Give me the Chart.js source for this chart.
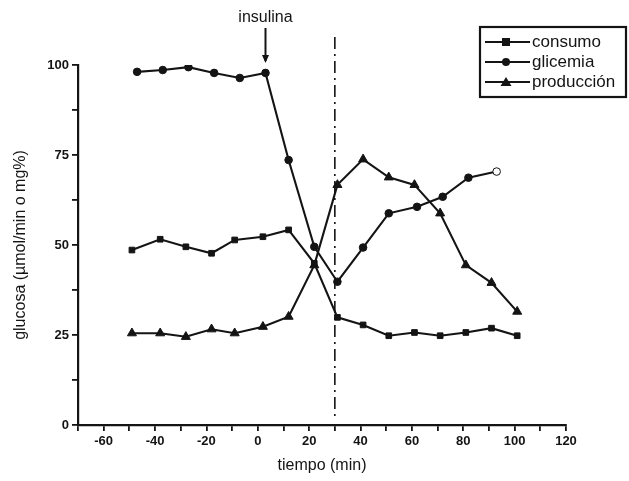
<!DOCTYPE html>
<html>
<head>
<meta charset="utf-8">
<script src="https://cdn.jsdelivr.net/npm/chart.js@4.4.1/dist/chart.umd.min.js"></script>
<style>
  html, body { margin: 0; padding: 0; background: #fff; }
  #wrap { width: 629px; height: 481px; }
</style>
</head>
<body>
<div id="wrap"><canvas id="grafico" width="629" height="481"></canvas></div>
<script>
// Datos (tiempo en min, glucosa en µmol/min o mg%)
const tiempo = [-49, -38, -28, -18, -9, 2, 12, 22, 31, 41, 51, 61, 71, 81, 91, 101];
const consumo = [48.6, 51.6, 49.5, 47.7, 51.4, 52.3, 54.2, 44.9, 29.9, 27.8, 24.8, 25.7, 24.8, 25.7, 26.9, 24.8];
const produccion = [25.5, 25.5, 24.5, 26.6, 25.5, 27.3, 30.1, 44.4, 66.7, 73.8, 68.8, 66.7, 58.8, 44.4, 39.5, 31.5];
const tiempoGlicemia = [-47, -37, -27, -17, -7, 3, 12, 22, 31, 41, 51, 62, 72, 82, 93];
const glicemia = [98.1, 98.6, 99.4, 97.8, 96.4, 97.8, 73.6, 49.5, 39.8, 49.3, 58.8, 60.6, 63.4, 68.7, 70.4];

const nombres = ['consumo', 'glicemia', 'producción'];
const estilos = ['rect', 'circle', 'triangle'];
const xEtiquetas = [-60, -40, -20, 0, 20, 40, 60, 80, 100, 120];
const yEtiquetas = [0, 25, 50, 75, 100];
const tiempoInsulina = 3;   // flecha "insulina"
const tiempoLinea = 30;     // línea punteada vertical

const negro = '#141414';
const fuente = '"Liberation Sans", Arial, sans-serif';

function puntos(xs, ys) {
    return ys.map((v, i) => ({ x: xs[i], y: v }));
}

function dibujarMarcador(ctx, estilo, x, y) {
    ctx.beginPath();
    if (estilo === 'rect') {
        ctx.rect(x - 4, y - 4, 8, 8);
    } else if (estilo === 'circle') {
        ctx.arc(x, y, 4, 0, Math.PI * 2);
    } else {
        ctx.moveTo(x, y - 5);
        ctx.lineTo(x + 5.5, y + 4);
        ctx.lineTo(x - 5.5, y + 4);
        ctx.closePath();
    }
    ctx.fill();
}

const extras = {
    id: 'extras',
    beforeDatasetsDraw(chart) {
        const ctx = chart.ctx;
        const xs = chart.scales.x, ys = chart.scales.y;
        const top = chart.chartArea.top;
        // línea vertical punteada
        const xl = xs.getPixelForValue(tiempoLinea);
        ctx.save();
        ctx.strokeStyle = negro;
        ctx.lineWidth = 1.6;
        ctx.setLineDash([12, 5, 2, 5]);
        ctx.beginPath();
        ctx.moveTo(xl, top - 28);
        ctx.lineTo(xl, ys.getPixelForValue(2));
        ctx.stroke();
        ctx.restore();
    },
    afterDraw(chart) {
        const ctx = chart.ctx;
        const xs = chart.scales.x;
        const top = chart.chartArea.top;
        ctx.save();
        // flecha insulina
        const xa = xs.getPixelForValue(tiempoInsulina);
        ctx.fillStyle = negro;
        ctx.strokeStyle = negro;
        ctx.lineWidth = 2;
        ctx.font = '16px ' + fuente;
        ctx.textAlign = 'center';
        ctx.textBaseline = 'middle';
        ctx.fillText('insulina', xa, top - 47);
        ctx.beginPath();
        ctx.moveTo(xa, top - 37);
        ctx.lineTo(xa, top - 4);
        ctx.stroke();
        ctx.beginPath();
        ctx.moveTo(xa, top - 2);
        ctx.lineTo(xa - 3.5, top - 10);
        ctx.lineTo(xa + 3.5, top - 10);
        ctx.closePath();
        ctx.fill();

        // leyenda
        ctx.lineWidth = 2.2;
        ctx.strokeRect(480, 27, 146, 70);
        ctx.textAlign = 'left';
        ctx.font = '17px ' + fuente;
        nombres.forEach((n, i) => {
            const y = 42 + i * 20;
            ctx.lineWidth = 2;
            ctx.beginPath();
            ctx.moveTo(485, y);
            ctx.lineTo(530, y);
            ctx.stroke();
            dibujarMarcador(ctx, estilos[i], 506, y);
            ctx.fillText(n, 532, y);
        });
        ctx.restore();
    }
};

const serie = (label, data, estilo, radio) => ({
    label: label,
    data: data,
    borderColor: negro,
    backgroundColor: negro,
    pointBackgroundColor: negro,
    pointBorderColor: negro,
    borderWidth: 2.1,
    pointStyle: estilo,
    pointRadius: radio,
    pointBorderWidth: 1,
    tension: 0
});

const dsGlicemia = serie('glicemia', puntos(tiempoGlicemia, glicemia), 'circle', 3.8);
dsGlicemia.pointBackgroundColor = glicemia.map((v, i) => i === glicemia.length - 1 ? '#fff' : negro);

const ctxGrafico = document.getElementById('grafico').getContext('2d');
new Chart(ctxGrafico, {
    type: 'line',
    data: {
        datasets: [
            serie('consumo', puntos(tiempo, consumo), 'rect', 4),
            dsGlicemia,
            serie('producción', puntos(tiempo, produccion), 'triangle', 5.2)
        ]
    },
    options: {
        responsive: false,
        animation: false,
        layout: { padding: { left: 4, top: 65, right: 63, bottom: 4 } },
        plugins: { legend: { display: false }, tooltip: { enabled: false } },
        scales: {
            x: {
                type: 'linear',
                min: -70,
                max: 120,
                afterFit(scale) { scale.height = 52; },
                ticks: {
                    stepSize: 10,
                    autoSkip: false,
                    maxRotation: 0,
                    padding: 3,
                    color: negro,
                    font: { family: fuente, size: 13, weight: 'bold' },
                    callback: (v) => xEtiquetas.includes(v) ? String(v) : ''
                },
                grid: { drawOnChartArea: false, drawTicks: true, tickLength: 6, color: negro, lineWidth: 1.8 },
                border: { display: true, color: negro, width: 2.2 },
                title: {
                    display: true,
                    text: 'tiempo (min)',
                    color: negro,
                    font: { family: fuente, size: 16 },
                    padding: { top: 0, bottom: 2 }
                }
            },
            y: {
                min: 0,
                max: 100,
                afterFit(scale) { scale.width = 74; },
                ticks: {
                    stepSize: 12.5,
                    autoSkip: false,
                    padding: 3,
                    color: negro,
                    font: { family: fuente, size: 13, weight: 'bold' },
                    callback: (v) => yEtiquetas.includes(v) ? String(v) : ''
                },
                grid: { drawOnChartArea: false, drawTicks: true, tickLength: 6, color: negro, lineWidth: 1.8 },
                border: { display: true, color: negro, width: 2.2 },
                title: {
                    display: true,
                    text: 'glucosa (µmol/min o mg%)',
                    color: negro,
                    font: { family: fuente, size: 16 },
                    padding: { top: 7, bottom: 0 }
                }
            }
        }
    },
    plugins: [extras]
});
</script>
</body>
</html>
